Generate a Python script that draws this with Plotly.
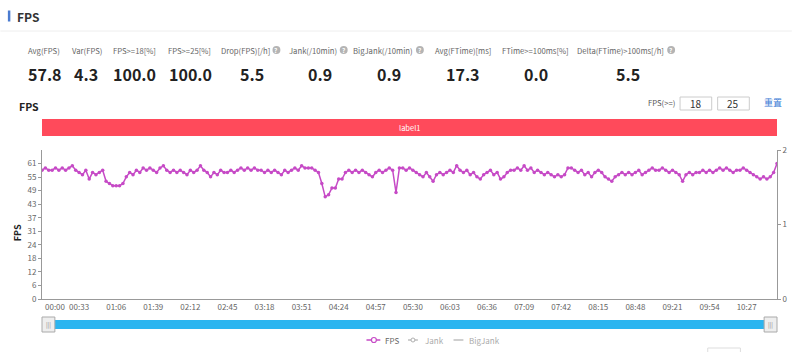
import plotly.graph_objects as go

# ---------------- data ----------------
stat_labels = ["Avg(FPS)", "Var(FPS)", "FPS>=18[%]", "FPS>=25[%]", "Drop(FPS)[/h]",
               "Jank(/10min)", "BigJank(/10min)", "Avg(FTime)[ms]", "FTime>=100ms[%]",
               "Delta(FTime)>100ms[/h]"]
stat_values = ["57.8", "4.3", "100.0", "100.0", "5.5", "0.9", "0.9", "17.3", "0.0", "5.5"]
stat_has_help = [False, False, False, False, True, True, True, False, False, True]

sample_step_s = 3
fps_values = [
    58, 59, 58, 58, 59, 58, 59, 58, 59, 60,
    58, 57, 56, 58, 54, 57, 56, 57, 58, 53,
    52, 51, 51, 51, 52, 55, 57, 56, 58, 57,
    59, 58, 59, 58, 57, 59, 60, 58, 57, 58,
    57, 58, 57, 56, 58, 57, 58, 60, 58, 57,
    55, 57, 56, 58, 57, 57, 58, 57, 58, 59,
    58, 59, 58, 59, 58, 58, 57, 58, 57, 58,
    57, 56, 58, 57, 58, 59, 58, 60, 59, 59,
    59, 58, 57, 52, 46, 47, 50, 50, 54, 54,
    57, 58, 57, 58, 57, 58, 57, 56, 55, 57,
    58, 57, 58, 59, 58, 48, 59, 59, 58, 59,
    58, 57, 56, 55, 57, 55, 53, 56, 57, 56,
    57, 58, 57, 60, 58, 57, 58, 56, 57, 55,
    54, 56, 57, 58, 56, 57, 54, 55, 57, 58,
    58, 59, 58, 60, 58, 59, 57, 58, 57, 56,
    57, 56, 55, 56, 55, 56, 59, 59, 58, 57,
    58, 56, 57, 55, 57, 58, 57, 55, 54, 53,
    55, 56, 57, 56, 57, 56, 57, 58, 56, 57,
    58, 59, 58, 58, 59, 58, 57, 58, 57, 56,
    53, 56, 57, 56, 57, 57, 58, 57, 58, 57,
    58, 59, 58, 59, 58, 57, 58, 58, 59, 58,
    57, 56, 55, 54, 55, 54, 55, 57, 61,
]
fps_times = [i * sample_step_s for i in range(len(fps_values))]

jank_times = []
jank_values = []
bigjank_times = []
bigjank_values = []

x_tick_labels = ["00:00", "00:33", "01:06", "01:39", "02:12", "02:45", "03:18", "03:51",
                 "04:24", "04:57", "05:30", "06:03", "06:36", "07:09", "07:42", "08:15",
                 "08:48", "09:21", "09:54", "10:27"]
y_tick_labels = ["0", "6", "12", "18", "24", "31", "37", "43", "49", "55", "61"]
y_tick_step = 6.1
y2_tick_labels = ["0", "1", "2"]

legend_names = ["FPS", "Jank", "BigJank"]
threshold_values = ["18", "25"]

# ---------------- layout geometry ----------------
W, H = 800, 352
L, R, T, B = 42, 15, 150, 53
PW, PH = W - L - R, H - T - B
FONT = "Noto Sans CJK SC"
FPS_COLOR = "#C64AC6"


def px(x):
    return (x - L) / PW


def py(y):
    return (H - B - y) / PH


x_tick_secs = [int(s[:2]) * 60 + int(s[3:]) for s in x_tick_labels]
y_tick_vals = [i * y_tick_step for i in range(len(y_tick_labels))]
x_max = fps_times[-1]

fig = go.Figure()
fig.add_trace(go.Scatter(
    x=fps_times, y=fps_values, mode="lines+markers", name="FPS",
    line=dict(color=FPS_COLOR, width=1.5),
    marker=dict(size=3.5, color=FPS_COLOR),
    showlegend=False, yaxis="y"))
fig.add_trace(go.Scatter(
    x=jank_times, y=jank_values, mode="lines+markers", name="Jank",
    line=dict(color="#aaaaaa"), showlegend=False, yaxis="y2"))
fig.add_trace(go.Scatter(
    x=bigjank_times, y=bigjank_values, mode="lines", name="BigJank",
    line=dict(color="#aaaaaa"), showlegend=False, yaxis="y2"))

shapes = []
annotations = []


def txt(s, x, y, size, color, bold=False, xanchor="center", angle=0, font=FONT):
    annotations.append(dict(
        text=f"<b>{s}</b>" if bold else s, x=px(x), y=py(y), xref="paper", yref="paper",
        xanchor=xanchor, yanchor="middle", showarrow=False, textangle=angle,
        font=dict(size=size, color=color, family=font)))


def rect(x0, y0, x1, y1, fill=None, line=None, lw=1, kind="rect"):
    shapes.append(dict(
        type=kind, xref="paper", yref="paper", x0=px(x0), x1=px(x1), y0=py(y1), y1=py(y0),
        fillcolor=fill if fill else "rgba(0,0,0,0)",
        line=dict(color=line if line else "rgba(0,0,0,0)", width=lw if line else 0),
        layer="above"))


def hline(x0, x1, y, color, w=1):
    shapes.append(dict(type="line", xref="paper", yref="paper",
                       x0=px(x0), x1=px(x1), y0=py(y), y1=py(y),
                       line=dict(color=color, width=w)))


# header
rect(7.5, 10.5, 10, 21.5, fill="#4A7BD0")
txt("FPS", 15, 16, 12, "#333333", bold=True, xanchor="left")
hline(0, 800, 31, "#eeeeee")

# stats
LAB = 7.7
label_centers = [44, 87, 136, 191, None, None, None, 468, 541, None]
icon_x = [None, None, None, None, 279, 347, 424, None, None, 678]
value_centers = [45, 86, 136, 192, 254, 323, 393, 468, 541, 634]
for i, lab in enumerate(stat_labels):
    if stat_has_help[i]:
        cx = icon_x[i]
        txt(lab, cx - 5, 50, LAB, "#666666", xanchor="right")
        rect(cx - 4, 46, cx + 4, 54, fill="#b4b4b4", kind="circle")
        txt("?", cx, 50, 6.5, "#ffffff", bold=True)
    else:
        txt(lab, label_centers[i], 50, LAB, "#666666")
    txt(stat_values[i], value_centers[i], 74, 16, "#222222", bold=True)

# chart title and controls
txt("FPS", 17, 106, 10.5, "#222222", bold=True, xanchor="left")
txt("FPS(>=)", 684, 103, 7.7, "#555555", xanchor="right")
rect(687, 97, 719, 110, line="#cccccc")
rect(725, 97, 757, 110, line="#cccccc")
txt(threshold_values[0], 703, 103.5, 10, "#333333")
txt(threshold_values[1], 741, 103.5, 10, "#333333")
txt("重置", 770, 103, 9, "#3A7BD5", xanchor="left")

# label band
rect(42, 119, 785, 136, fill="#FF4A5B")
txt("label1", 413.5, 127.5, 7.5, "#ffffff")

# y title
txt("FPS", 17, 233, 9, "#222222", bold=True, angle=-90)
# first x tick label (left aligned like the original)
txt(x_tick_labels[0], 43, 306.5, 8, "#666666", xanchor="left")

# slider
rect(42, 320, 785, 329, fill="#2BB5F0")
for hx in (42, 772):
    rect(hx, 317, hx + 13, 332, fill="#eeeeee", line="#aaaaaa")
    txt("|||", hx + 6.5, 324.5, 6, "#888888")

# legend
hline(370, 384, 340, FPS_COLOR, 1.5)
rect(375, 337.5, 380, 342.5, fill="#ffffff", line=FPS_COLOR, lw=1.2, kind="circle")
txt(legend_names[0], 387, 340, 8, "#666666", xanchor="left")
hline(412, 422, 340, "#b0b0b0", 1.2)
rect(415, 338, 419, 342, fill="#ffffff", line="#b0b0b0", lw=1, kind="circle")
txt(legend_names[1], 427, 340, 8, "#aaaaaa", xanchor="left")
hline(458, 468, 340, "#b0b0b0", 1.2)
txt(legend_names[2], 472, 340, 8, "#aaaaaa", xanchor="left")

# partially visible control at bottom
rect(715, 348, 748, 358, line="#dddddd")

tick_font = dict(size=8, color="#666666", family=FONT)
fig.update_layout(
    width=W, height=H, autosize=False,
    margin=dict(l=L, r=R, t=T, b=B, pad=0),
    paper_bgcolor="#ffffff", plot_bgcolor="#ffffff",
    showlegend=False,
    font=dict(family=FONT),
    xaxis=dict(range=[0, x_max], tickvals=x_tick_secs,
               ticktext=[""] + x_tick_labels[1:], tickangle=0,
               showline=True, linecolor="#999999", linewidth=1,
               ticks="", showgrid=False, zeroline=False, tickfont=tick_font),
    yaxis=dict(range=[0, y_tick_step * 11], tickvals=y_tick_vals, ticktext=y_tick_labels,
               showline=True, linecolor="#999999", linewidth=1,
               ticks="outside", ticklen=3, tickcolor="#999999",
               showgrid=False, zeroline=False, tickfont=tick_font),
    yaxis2=dict(overlaying="y", side="right", range=[0, 2],
                tickvals=[0, 1, 2], ticktext=y2_tick_labels,
                showline=True, linecolor="#999999", linewidth=1,
                ticks="outside", ticklen=3, tickcolor="#999999",
                showgrid=False, zeroline=False, tickfont=tick_font),
    shapes=shapes, annotations=annotations,
)

fig.write_html("out.html", config=dict(displayModeBar=False))
